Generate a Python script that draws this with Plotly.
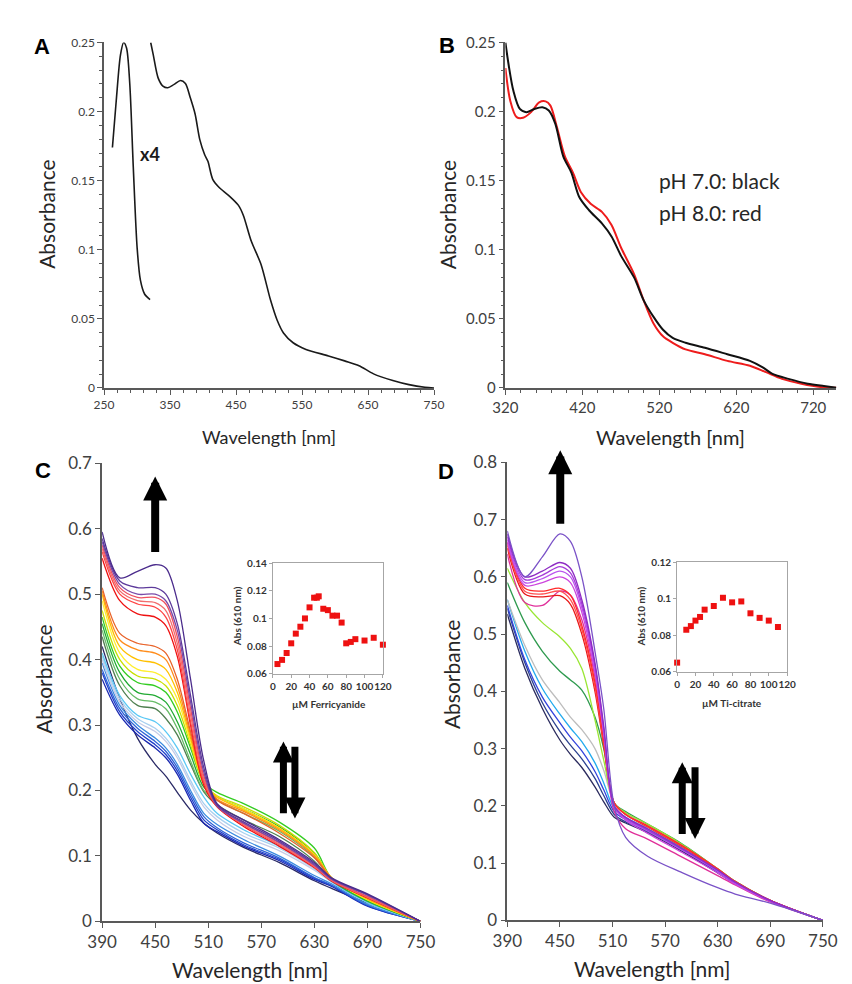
import plotly.graph_objects as go

# ---------------- Panel A ----------------
A_MAIN_WL = [320.7, 324.6, 331.9, 339.2, 346.5, 356.2, 366, 373.3, 380.6, 387.9, 395.2, 402.5, 407.4,
             414.7, 424.5, 439.1, 453.7, 461, 473.2, 487.8, 502.4, 512.2, 521.9, 536.5, 556, 590.1,
             614.5, 636.4, 658.4, 687.6, 712, 736.3, 750]
A_MAIN_ABS = [0.25, 0.241, 0.2244, 0.2185, 0.2173, 0.2197, 0.2225, 0.2204, 0.2102, 0.1984, 0.1795,
              0.1688, 0.164, 0.151, 0.1451, 0.1392, 0.1321, 0.125, 0.1061, 0.0895, 0.0634, 0.0492,
              0.0398, 0.0327, 0.0279, 0.0232, 0.0196, 0.0161, 0.0102, 0.0054, 0.0024, 0.0005, 0]
A_X4_WL = [262.7, 268.5, 274.9, 279.7, 284.1, 289, 294.3, 300.2, 305.1, 311.4, 319.7]
A_X4_ABS = [0.174, 0.208, 0.241, 0.25, 0.246, 0.22, 0.16, 0.101, 0.078, 0.068, 0.064]

# ---------------- Panel B ----------------
B_PH7_WL = [320, 324.2, 330.4, 338.8, 347.2, 357.6, 368.1, 376.4, 384.8, 395.2, 405.7, 416.1, 428.7,
            445.4, 457.9, 470.5, 487.2, 499.7, 512.3, 524.8, 537.4, 554.1, 579.2, 608.4, 637.7,
            654.4, 667, 687.8, 712.9, 733.8, 750]
B_PH7_ABS = [0.25, 0.2339, 0.215, 0.2019, 0.1996, 0.2019, 0.2031, 0.2008, 0.1913, 0.1676, 0.1558,
             0.138, 0.1286, 0.1191, 0.1096, 0.0954, 0.08, 0.0634, 0.0516, 0.0421, 0.0362, 0.0327,
             0.0291, 0.0244, 0.0196, 0.0149, 0.0102, 0.0066, 0.0031, 0.0014, 0.0002]
B_PH8_WL = [320, 326.3, 334.6, 343, 353.4, 363.9, 372.3, 378.5, 386.9, 397.3, 407.8, 418.2, 430.8,
            445.4, 457.9, 470.5, 487.2, 499.7, 512.3, 524.8, 537.4, 554.1, 579.2, 608.4, 637.7,
            658.6, 679.5, 704.6, 729.6, 750]
B_PH8_ABS = [0.2315, 0.2079, 0.196, 0.1955, 0.1996, 0.2067, 0.2074, 0.2043, 0.1889, 0.1676, 0.1558,
             0.1416, 0.1333, 0.1274, 0.1179, 0.1013, 0.0824, 0.0634, 0.0469, 0.0374, 0.0327,
             0.0279, 0.0244, 0.0196, 0.0161, 0.0114, 0.0066, 0.0031, 0.0007, 0.0002]

# ---------------- Panel C (ferricyanide titration) ----------------
C_WL = [390, 410, 430, 450, 462, 475, 490, 505, 520, 550, 590, 630, 650, 690, 750]
C_P1 = [0.595, 0.525, 0.535, 0.545, 0.54, 0.49, 0.37, 0.245, 0.18, 0.155, 0.125, 0.09, 0.066, 0.042, 0]
C_P2 = [0.585, 0.52, 0.51, 0.51, 0.5, 0.455, 0.345, 0.235, 0.178, 0.152, 0.123, 0.088, 0.065, 0.041, 0]
C_P3 = [0.58, 0.515, 0.5, 0.5, 0.49, 0.445, 0.335, 0.228, 0.176, 0.15, 0.121, 0.086, 0.064, 0.04, 0]
C_R1 = [0.575, 0.51, 0.495, 0.495, 0.485, 0.435, 0.325, 0.222, 0.178, 0.15, 0.12, 0.085, 0.063, 0.038, 0]
C_R2 = [0.57, 0.505, 0.49, 0.487, 0.475, 0.425, 0.315, 0.217, 0.177, 0.148, 0.118, 0.084, 0.062, 0.037, 0]
C_R3 = [0.565, 0.5, 0.485, 0.48, 0.465, 0.415, 0.305, 0.212, 0.176, 0.147, 0.117, 0.083, 0.062, 0.037, 0]
C_R4 = [0.555, 0.49, 0.47, 0.465, 0.452, 0.405, 0.3, 0.208, 0.175, 0.145, 0.115, 0.082, 0.061, 0.036, 0]
C_O1 = [0.51, 0.44, 0.425, 0.42, 0.41, 0.37, 0.29, 0.215, 0.185, 0.165, 0.135, 0.097, 0.065, 0.036, 0]
C_O2 = [0.505, 0.43, 0.415, 0.41, 0.4, 0.36, 0.285, 0.213, 0.187, 0.168, 0.14, 0.1, 0.066, 0.035, 0]
C_Y1 = [0.5, 0.42, 0.4, 0.395, 0.385, 0.35, 0.28, 0.212, 0.19, 0.17, 0.142, 0.101, 0.066, 0.034, 0]
C_Y2 = [0.49, 0.41, 0.385, 0.38, 0.37, 0.34, 0.275, 0.212, 0.19, 0.172, 0.143, 0.102, 0.065, 0.033, 0]
C_YG = [0.475, 0.4, 0.375, 0.37, 0.36, 0.33, 0.27, 0.21, 0.192, 0.175, 0.147, 0.105, 0.066, 0.033, 0]
C_G1 = [0.465, 0.39, 0.365, 0.36, 0.35, 0.32, 0.265, 0.212, 0.197, 0.18, 0.152, 0.112, 0.065, 0.032, 0]
C_G2 = [0.455, 0.38, 0.35, 0.345, 0.335, 0.305, 0.255, 0.205, 0.19, 0.172, 0.145, 0.104, 0.064, 0.031, 0]
C_G3 = [0.445, 0.37, 0.34, 0.335, 0.325, 0.295, 0.245, 0.2, 0.185, 0.165, 0.138, 0.098, 0.063, 0.031, 0]
C_DG = [0.435, 0.36, 0.33, 0.325, 0.31, 0.285, 0.24, 0.198, 0.178, 0.155, 0.13, 0.092, 0.062, 0.031, 0]
C_LB1 = [0.41, 0.345, 0.315, 0.305, 0.29, 0.265, 0.225, 0.19, 0.165, 0.14, 0.115, 0.083, 0.06, 0.029, 0]
C_LB2 = [0.405, 0.34, 0.31, 0.295, 0.28, 0.255, 0.215, 0.18, 0.16, 0.135, 0.112, 0.08, 0.06, 0.029, 0]
C_LB3 = [0.4, 0.335, 0.305, 0.29, 0.275, 0.25, 0.21, 0.175, 0.155, 0.13, 0.108, 0.078, 0.06, 0.029, 0]
C_B1 = [0.395, 0.33, 0.3, 0.28, 0.265, 0.24, 0.2, 0.165, 0.148, 0.125, 0.1, 0.07, 0.057, 0.026, 0]
C_B2 = [0.385, 0.325, 0.295, 0.275, 0.26, 0.235, 0.195, 0.16, 0.143, 0.12, 0.097, 0.067, 0.055, 0.025, 0]
C_B3 = [0.38, 0.32, 0.29, 0.27, 0.255, 0.23, 0.19, 0.155, 0.14, 0.117, 0.095, 0.066, 0.054, 0.024, 0]
C_B4 = [0.37, 0.315, 0.285, 0.265, 0.25, 0.225, 0.185, 0.15, 0.137, 0.115, 0.093, 0.064, 0.053, 0.023, 0]
C_NV = [0.42, 0.34, 0.28, 0.24, 0.222, 0.197, 0.17, 0.15, 0.135, 0.113, 0.09, 0.062, 0.05, 0.028, 0]

# ---------------- Panel D (Ti-citrate titration) ----------------
D_WL = [390, 410, 430, 450, 462, 475, 490, 500, 512, 525, 550, 590, 630, 650, 690, 750]
D_V1 = [0.68, 0.6, 0.635, 0.675, 0.662, 0.6, 0.47, 0.37, 0.2, 0.145, 0.112, 0.083, 0.057, 0.046, 0.03, 0]
D_PA = [0.675, 0.6, 0.61, 0.625, 0.615, 0.56, 0.45, 0.34, 0.2, 0.18, 0.16, 0.125, 0.088, 0.067, 0.035, 0]
D_PB = [0.67, 0.595, 0.603, 0.618, 0.607, 0.553, 0.445, 0.335, 0.2, 0.179, 0.158, 0.124, 0.087, 0.066, 0.034, 0]
D_PC = [0.665, 0.59, 0.597, 0.61, 0.6, 0.546, 0.44, 0.33, 0.198, 0.177, 0.156, 0.122, 0.086, 0.065, 0.034, 0]
D_PD = [0.66, 0.585, 0.59, 0.6, 0.59, 0.538, 0.432, 0.325, 0.197, 0.175, 0.152, 0.118, 0.083, 0.063, 0.033, 0]
D_RA = [0.66, 0.58, 0.575, 0.58, 0.568, 0.515, 0.415, 0.315, 0.205, 0.185, 0.165, 0.13, 0.09, 0.068, 0.035, 0]
D_RB = [0.655, 0.575, 0.57, 0.575, 0.56, 0.508, 0.408, 0.31, 0.205, 0.185, 0.164, 0.129, 0.089, 0.067, 0.035, 0]
D_RC = [0.65, 0.57, 0.565, 0.567, 0.552, 0.5, 0.4, 0.305, 0.205, 0.185, 0.163, 0.128, 0.088, 0.067, 0.035, 0]
D_PK = [0.64, 0.555, 0.55, 0.575, 0.568, 0.525, 0.425, 0.325, 0.19, 0.16, 0.142, 0.11, 0.078, 0.062, 0.032, 0]
D_LG = [0.615, 0.555, 0.52, 0.495, 0.475, 0.44, 0.35, 0.28, 0.205, 0.188, 0.168, 0.132, 0.09, 0.068, 0.035, 0]
D_G = [0.59, 0.52, 0.47, 0.435, 0.42, 0.402, 0.355, 0.3, 0.205, 0.19, 0.168, 0.133, 0.09, 0.068, 0.035, 0]
D_GR = [0.56, 0.48, 0.42, 0.38, 0.355, 0.333, 0.3, 0.262, 0.205, 0.188, 0.164, 0.13, 0.088, 0.067, 0.034, 0]
D_CY = [0.56, 0.47, 0.405, 0.36, 0.336, 0.312, 0.275, 0.24, 0.195, 0.18, 0.16, 0.126, 0.086, 0.066, 0.034, 0]
D_BL = [0.55, 0.455, 0.39, 0.345, 0.32, 0.296, 0.26, 0.228, 0.19, 0.176, 0.157, 0.124, 0.085, 0.065, 0.034, 0]
D_NV = [0.545, 0.45, 0.38, 0.33, 0.306, 0.282, 0.248, 0.218, 0.185, 0.172, 0.155, 0.122, 0.084, 0.065, 0.034, 0]
D_DN = [0.535, 0.44, 0.37, 0.315, 0.29, 0.267, 0.233, 0.207, 0.18, 0.17, 0.153, 0.12, 0.083, 0.064, 0.034, 0]

# ---------------- Insets ----------------
INSET_C_CONC = [5, 10, 15, 20, 25, 30, 35, 40, 45, 48, 50, 55, 60, 65, 70, 75, 80, 85, 90, 100, 110, 120]
INSET_C_ABS = [0.067, 0.070, 0.075, 0.082, 0.089, 0.094, 0.100, 0.108, 0.115, 0.115, 0.116, 0.107,
               0.106, 0.102, 0.102, 0.097, 0.082, 0.083, 0.085, 0.084, 0.086, 0.081]
INSET_D_CONC = [0, 10, 15, 20, 25, 30, 40, 50, 60, 70, 80, 90, 100, 110]
INSET_D_ABS = [0.065, 0.083, 0.085, 0.088, 0.090, 0.094, 0.096, 0.1005, 0.098, 0.0985, 0.092,
               0.0895, 0.088, 0.0845]

# ---------------- styles (kept separate from data) ----------------
C_SERIES = [C_NV, C_B4, C_B3, C_B2, C_B1, C_LB3, C_LB2, C_LB1, C_DG, C_G3, C_G2, C_G1, C_YG, C_Y2,
            C_Y1, C_O2, C_O1, C_R4, C_R3, C_R2, C_R1, C_P3, C_P2, C_P1]
C_COLORS = ["#2a2a66", "#1a28b0", "#2040cc", "#2f62d6", "#3c8ce0", "#c5cbe6", "#a8d0f0", "#5bc8f5",
            "#4f7f50", "#66bb66", "#22aa33", "#33cc22", "#c8e000", "#ffee30", "#ffc000", "#ff8c1a",
            "#e8632a", "#ee1111", "#ff4444", "#f26d6d", "#f05060", "#7a4aa8", "#5d3a9b", "#4b2c8c"]
D_SERIES = [D_DN, D_NV, D_BL, D_CY, D_GR, D_G, D_LG, D_PK, D_RC, D_RB, D_RA, D_PD, D_PC, D_PB, D_PA, D_V1]
D_COLORS = ["#2b2b5e", "#2b4190", "#3344dd", "#22aaee", "#bdbdbd", "#2e9a4e", "#99e633", "#e0309a",
            "#e81818", "#ff5050", "#ff2a2a", "#cc44dd", "#bb55ee", "#a53ad8", "#8e2bc4", "#7a52c7"]

AXC = "#595959"
TICKC = "#404040"
FONT = "Lato"

fig = go.Figure()

fig.add_trace(go.Scatter(x=A_X4_WL, y=A_X4_ABS, mode="lines", xaxis="x", yaxis="y",
                         line=dict(color="#1a1a1a", width=1.6, shape="spline", smoothing=0.8), showlegend=False))
fig.add_trace(go.Scatter(x=A_MAIN_WL, y=A_MAIN_ABS, mode="lines", xaxis="x", yaxis="y",
                         line=dict(color="#1a1a1a", width=1.6, shape="spline", smoothing=0.8), showlegend=False))
fig.add_trace(go.Scatter(x=B_PH8_WL, y=B_PH8_ABS, mode="lines", xaxis="x2", yaxis="y2", name="pH 8.0",
                         line=dict(color="#ee1c1c", width=2, shape="spline", smoothing=0.8), showlegend=False))
fig.add_trace(go.Scatter(x=B_PH7_WL, y=B_PH7_ABS, mode="lines", xaxis="x2", yaxis="y2", name="pH 7.0",
                         line=dict(color="#111111", width=2, shape="spline", smoothing=0.8), showlegend=False))

for vals, col in zip(C_SERIES, C_COLORS):
    fig.add_trace(go.Scatter(x=C_WL, y=vals, mode="lines", xaxis="x3", yaxis="y3",
                             line=dict(color=col, width=1.3, shape="spline", smoothing=0.9), showlegend=False))
for vals, col in zip(D_SERIES, D_COLORS):
    fig.add_trace(go.Scatter(x=D_WL, y=vals, mode="lines", xaxis="x4", yaxis="y4",
                             line=dict(color=col, width=1.3, shape="spline", smoothing=0.9), showlegend=False))

fig.add_trace(go.Scatter(x=INSET_C_CONC, y=INSET_C_ABS, mode="markers", xaxis="x5", yaxis="y5",
                         marker=dict(symbol="square", size=6, color="#ee1111"), cliponaxis=False, showlegend=False))
fig.add_trace(go.Scatter(x=INSET_D_CONC, y=INSET_D_ABS, mode="markers", xaxis="x6", yaxis="y6",
                         marker=dict(symbol="square", size=6, color="#ee1111"), cliponaxis=False, showlegend=False))


def main_axis(domain, rng, dtick, tick0, size, anchor, minor=None):
    d = dict(domain=domain, range=rng, dtick=dtick, tick0=tick0, showgrid=False, zeroline=False,
             showline=True, linecolor=AXC, linewidth=1.5, ticks="outside", ticklen=5, tickwidth=1.3,
             tickcolor=AXC, tickfont=dict(family=FONT, size=size, color=TICKC), anchor=anchor)
    if minor:
        d["minor"] = dict(dtick=minor, tick0=tick0, ticks="outside", ticklen=3, tickwidth=1, tickcolor=AXC)
    return d


def inset_axis(domain, rng, dtick, anchor):
    return dict(domain=domain, range=rng, dtick=dtick, tick0=rng[0], showgrid=False, zeroline=False,
                showline=True, linecolor="#a6a6a6", linewidth=1, mirror=True, ticks="outside", ticklen=3,
                tickcolor="#a6a6a6", tickangle=0,
                tickfont=dict(family=FONT, size=10, color="#333333", weight="bold"),
                anchor=anchor)


W, H = 852, 984


def px(x):
    return x / W


def py(y):
    return 1 - y / H


fig.update_layout(
    width=W, height=H, margin=dict(l=0, r=0, t=0, b=0),
    paper_bgcolor="white", plot_bgcolor="white",
    xaxis=main_axis([px(84), px(426)], [250, 750], 100, 250, 12, "y", 20),
    yaxis=main_axis([py(377), py(24)], [0, 0.25], 0.05, 0, 12, "x", 0.01),
    xaxis2=main_axis([px(500), px(843)], [320, 750], 100, 320, 15, "y2", 20),
    yaxis2=main_axis([py(377), py(24)], [0, 0.25], 0.05, 0, 15, "x2", 0.01),
    xaxis3=main_axis([px(82), px(412)], [390, 750], 60, 390, 17, "y3"),
    yaxis3=main_axis([py(922), py(454)], [0, 0.7], 0.1, 0, 17, "x3"),
    xaxis4=main_axis([px(502), px(829)], [390, 750], 60, 390, 17, "y4"),
    yaxis4=main_axis([py(921), py(453)], [0, 0.8], 0.1, 0, 17, "x4"),
    xaxis5=inset_axis([px(259), px(373)], [0, 120], 20, "y5"),
    yaxis5=inset_axis([py(669), py(556)], [0.06, 0.14], 0.02, "x5"),
    xaxis6=inset_axis([px(678), px(792)], [0, 120], 20, "y6"),
    yaxis6=inset_axis([py(667), py(555)], [0.06, 0.12], 0.02, "x6"),
)

ann = []


def text(x, y, t, size, bold=False, angle=0, family=FONT, color="#262626", xanchor="center"):
    ann.append(dict(x=px(x), y=py(y), xref="paper", yref="paper", text=t, showarrow=False,
                    textangle=angle, xanchor=xanchor, yanchor="middle",
                    font=dict(family=family, size=size, color=color, weight="bold" if bold else "normal")))


# panel letters
for lx, ly, lt in [(20, 28, "A"), (439, 27, "B"), (21, 461, "C"), (438, 462, "D")]:
    text(lx, ly, lt, 22, bold=True, family="Liberation Sans", color="black")

# axis titles
text(25, 200, "Absorbance", 21, angle=-90)
text(255, 427, "Wavelength [nm]", 18)
text(440, 200, "Absorbance", 21, angle=-90)
text(671, 427, "Wavelength [nm]", 20)
text(21, 675, "Absorbance", 21, angle=-90)
text(235, 971, "Wavelength [nm]", 21)
text(444, 670, "Absorbance", 21, angle=-90)
text(652, 970, "Wavelength [nm]", 21)

# inset titles
text(222, 610, "Abs (610 nm)", 10, bold=True, angle=-90, color="#333333")
text(317, 700, "µM Ferricyanide", 10, bold=True, color="#333333")
text(641, 610, "Abs (610 nm)", 10, bold=True, angle=-90, color="#333333")
text(735, 699, "µM Ti-citrate", 10, bold=True, color="#333333")

# in-plot labels
ann.append(dict(x=320, y=0.169, xref="x", yref="y", text="x4", showarrow=False, xanchor="center",
                font=dict(family=FONT, size=18, color="#1a1a1a", weight="bold")))
ann.append(dict(x=517, y=0.150, xref="x2", yref="y2", text="pH 7.0: black", showarrow=False, xanchor="left",
                font=dict(family=FONT, size=21, color="#262626")))
ann.append(dict(x=517, y=0.127, xref="x2", yref="y2", text="pH 8.0: red", showarrow=False, xanchor="left",
                font=dict(family=FONT, size=21, color="#262626")))


def arrow(xr, yr, x, y0, y1, w=8):
    ann.append(dict(x=x, y=y1, ax=x, ay=y0, xref=xr, yref=yr, axref=xr, ayref=yr, text="",
                    showarrow=True, arrowhead=2, arrowsize=0.6, arrowwidth=w, arrowcolor="black",
                    standoff=0, startstandoff=0))


arrow("x3", "y3", 450, 0.562, 0.68)
arrow("x3", "y3", 595, 0.163, 0.275, 7)
arrow("x3", "y3", 608, 0.269, 0.157, 7)
arrow("x4", "y4", 450.4, 0.69, 0.821)
arrow("x4", "y4", 589.6, 0.148, 0.276, 7)
arrow("x4", "y4", 604.2, 0.27, 0.142, 7)

fig.update_layout(annotations=ann)
fig.write_html("out.html")
